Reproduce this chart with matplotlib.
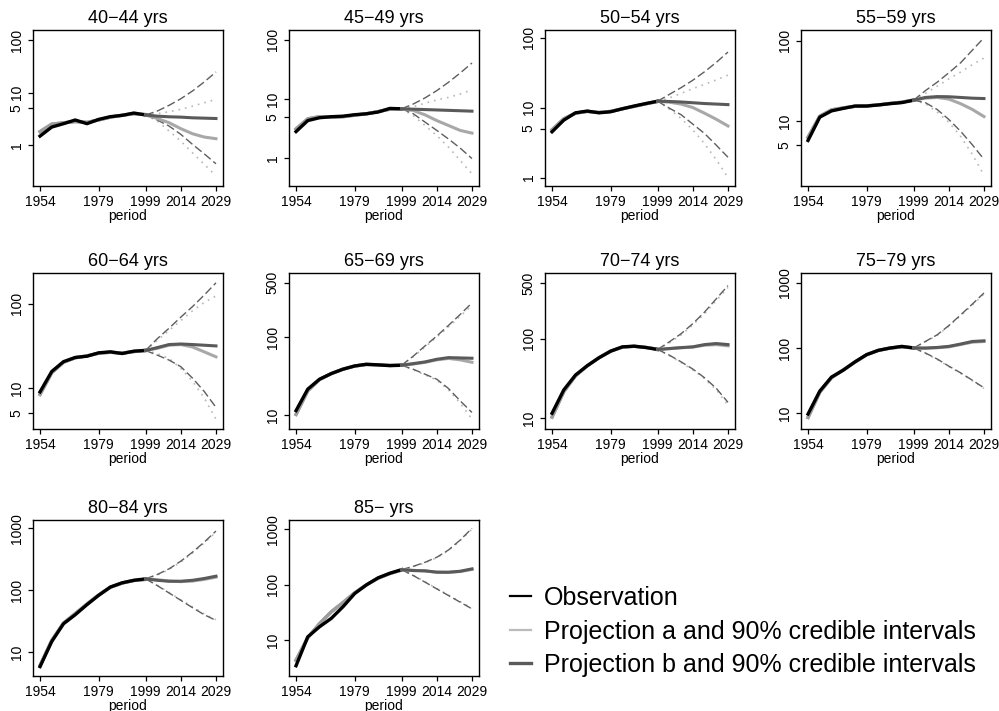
import numpy as np
import matplotlib
matplotlib.use("Agg")
import matplotlib.pyplot as plt
from matplotlib.lines import Line2D
import matplotlib.ticker as ticker

plt.rcParams['font.family'] = ['Liberation Sans', 'DejaVu Sans']

# periods
obs_years = [1954, 1959, 1964, 1969, 1974, 1979, 1984, 1989, 1994, 1999]
proj_years = [1999, 2004, 2009, 2014, 2019, 2024, 2029]
xticks = [1954, 1979, 1999, 2014, 2029]

titles = ["40\u221244 yrs", "45\u221249 yrs", "50\u221254 yrs", "55\u221259 yrs",
          "60\u221264 yrs", "65\u221269 yrs", "70\u221274 yrs", "75\u221279 yrs",
          "80\u221284 yrs", "85\u2212 yrs"]

# observed rates 1954-1999
observed = [
    [1.48, 2.2, 2.55, 3.0, 2.55, 3.08, 3.47, 3.67, 4.07, 3.73],
    [2.8, 4.3, 4.8, 5.0, 5.1, 5.4, 5.6, 6.0, 6.9, 6.8],
    [4.5, 6.6, 8.4, 8.9, 8.4, 8.7, 9.6, 10.5, 11.4, 12.3],
    [5.75, 11.2, 13.4, 14.4, 15.4, 15.4, 15.9, 16.5, 17.0, 18.2],
    [9.0, 15.7, 20.5, 23.0, 23.8, 26.1, 26.8, 25.6, 27.3, 27.8],
    [11.4, 21.5, 28.8, 34, 38.7, 42.6, 44.8, 44, 43, 43.5],
    [11.5, 22.6, 34.8, 45.5, 57.3, 69.5, 78.7, 80.2, 77.2, 72.9],
    [9.7, 21.8, 35.8, 45.7, 61.2, 79.2, 92.2, 100, 106, 100],
    [5.86, 14.9, 28.8, 40.3, 58.6, 83, 113, 132, 145, 153],
    [3.5, 11.6, 17.6, 24.9, 40.3, 69.8, 100, 134, 162, 188],
]

# fitted values over the observation period
fitted = [
    [1.8, 2.5, 2.65, 2.8, 2.7, 3.0, 3.4, 3.7, 3.95, 3.8],
    [3.1, 4.6, 5.0, 4.9, 5.0, 5.3, 5.6, 6.1, 6.7, 6.8],
    [4.8, 6.9, 8.3, 8.8, 8.5, 8.8, 9.6, 10.4, 11.3, 12.2],
    [6.3, 11.5, 13.8, 14.6, 15.3, 15.5, 15.9, 16.6, 17.2, 18.3],
    [8.4, 15.2, 20.2, 22.8, 24.0, 25.8, 26.5, 25.9, 27.0, 28.0],
    [10.2, 20.5, 28.5, 34, 38.8, 42.5, 44.5, 44, 43.3, 43.7],
    [10.3, 21.5, 34, 45.5, 57.5, 69.5, 78, 80, 77.5, 73.5],
    [8.6, 21, 35, 46, 61, 79, 92, 100, 104, 101],
    [6.1, 15.5, 29.5, 42, 60, 84, 112, 131, 144, 150],
    [4.4, 11.2, 20, 32.7, 48, 72, 100, 132, 160, 185],
]

# projection a, median and 90% interval
proj_a = [
    [3.73, 3.2, 2.66, 2.05, 1.64, 1.42, 1.32],
    [6.8, 6.36, 5.37, 4.3, 3.55, 2.93, 2.64],
    [12.3, 11.9, 11.2, 10.0, 8.3, 6.8, 5.45],
    [18.2, 19.3, 19.7, 18.8, 16.5, 14.0, 11.4],
    [27.8, 29.5, 32.1, 32.7, 30.6, 26.8, 23.4],
    [43.5, 45, 47.4, 51, 53.2, 51, 47.5],
    [72.9, 74.5, 76.5, 78, 82.5, 84, 81],
    [100, 99, 101, 104, 113, 123, 126],
    [153, 148, 141, 138, 141, 150, 163],
    [188, 183, 178, 170, 168, 174, 190],
]
a_low = [
    [3.73, 2.87, 1.85, 1.19, 0.71, 0.43, 0.26],
    [6.8, 5.2, 3.55, 2.4, 1.53, 0.91, 0.54],
    [12.3, 9.5, 7.0, 4.8, 3.05, 1.8, 1.0],
    [18.2, 16.5, 13.0, 9.7, 6.5, 3.87, 2.13],
    [27.8, 25.6, 22.4, 17.1, 12.0, 7.65, 4.27],
    [43.5, 37.9, 32.7, 28, 21, 14.2, 8.9],
    [72.9, 61, 50, 40.5, 31.3, 22.8, 14.6],
    [100, 83, 67, 52, 41, 31.5, 24],
    [153, 121, 92, 70.5, 54, 41.5, 33.5],
    [188, 149, 114, 86, 65.5, 50, 38],
]
a_high = [
    [3.73, 3.95, 4.3, 4.78, 5.5, 6.4, 7.4],
    [6.8, 7.4, 8.45, 9.6, 10.6, 12.1, 14.2],
    [12.3, 13.7, 15.9, 18.6, 21.4, 24.8, 29],
    [18.2, 22.1, 27.1, 33.5, 40.7, 50.3, 61],
    [27.8, 36.7, 48, 62.8, 82, 103, 123],
    [43.5, 56, 74.5, 100, 135, 185, 254],
    [72.9, 88, 111, 148, 205, 300, 440],
    [100, 124, 156, 216, 312, 455, 675],
    [153, 176, 216, 286, 400, 580, 870],
    [188, 213, 250, 308, 415, 625, 1010],
]

# projection b, median and 90% interval
proj_b = [
    [3.73, 3.55, 3.45, 3.4, 3.3, 3.25, 3.2],
    [6.8, 6.7, 6.6, 6.5, 6.4, 6.3, 6.2],
    [12.3, 12.2, 12.0, 11.7, 11.4, 11.2, 11.0],
    [18.2, 19.7, 20.2, 20.1, 19.7, 19.3, 19.1],
    [27.8, 30.1, 32.7, 33.2, 32.7, 32.1, 31.5],
    [43.5, 45.7, 48, 51.9, 54.5, 54, 53.5],
    [72.9, 75, 77, 78.7, 84, 86.6, 84],
    [100, 100, 102, 106, 115, 126, 129],
    [153, 145, 140, 140, 145, 155, 169],
    [188, 181, 179, 169, 169, 176, 194],
]
b_low = [
    [3.73, 2.99, 2.3, 1.6, 1.03, 0.68, 0.44],
    [6.8, 5.6, 4.05, 2.93, 2.1, 1.47, 0.98],
    [12.3, 9.8, 7.9, 5.8, 4.26, 2.9, 1.95],
    [18.2, 17.0, 14.0, 10.5, 7.5, 5.1, 3.35],
    [27.8, 24.5, 21.4, 17.9, 13.1, 9.1, 5.9],
    [43.5, 38.6, 33.4, 28.8, 21.9, 15.2, 10.8],
    [72.9, 61.9, 51, 41.4, 32.2, 23.7, 15.8],
    [100, 84, 68, 52.7, 41.7, 32.1, 24.5],
    [153, 119, 90.5, 68.9, 52.4, 40.3, 32.6],
    [188, 147, 112, 84.7, 64.3, 48.8, 37],
]
b_high = [
    [3.73, 4.44, 5.7, 7.6, 10.7, 15.9, 24.6],
    [6.8, 8.2, 10.4, 13.8, 19.1, 27.4, 40.4],
    [12.3, 15.4, 19.2, 24.5, 32.4, 44, 62],
    [18.2, 23.9, 30.4, 39.9, 53, 76, 109],
    [27.8, 38.4, 51, 69, 92, 126, 176],
    [43.5, 57, 77, 103, 141, 195, 274],
    [72.9, 91, 115, 154, 215, 316, 464],
    [100, 126, 159, 221, 321, 471, 701],
    [153, 180, 222, 295, 413, 600, 905],
    [188, 216, 255, 314, 425, 643, 1042],
]

yticks = [[1, 5, 10, 100], [1, 5, 10, 100], [1, 5, 10, 100], [5, 10, 100],
          [5, 10, 100], [10, 100, 500], [10, 100, 500], [10, 100, 1000],
          [10, 100, 1000], [10, 100, 1000]]
ylims = [(0.166, 155), (0.337, 146), (0.757, 128), (1.56, 136), (3.27, 230),
         (6.63, 662), (7.29, 668), (5.71, 1419), (4.13, 1365), (2.29, 1472)]

W, H = 999, 711
fig = plt.figure(figsize=(W / 100, H / 100), dpi=100)

col_left = [33, 289, 545, 801]
row_top = [30, 273, 520]
pw, ph = 190, 156

c_a = '#a8a8a8'
c_b = '#5a5a5a'

for i in range(10):
    r, c = divmod(i, 4)
    ax = fig.add_axes([col_left[c] / W, 1 - (row_top[r] + ph) / H, pw / W, ph / H])
    ax.set_yscale('log')

    ax.plot(obs_years, fitted[i], color=c_b, lw=2.4, alpha=0.8)
    ax.plot(obs_years, fitted[i], color=c_a, lw=2.4, alpha=0.8)
    ax.plot(obs_years, observed[i], color='black', lw=2.4)

    ax.plot(proj_years, a_low[i], color='#b8b8b8', lw=1.2, ls=(0, (1, 3)))
    ax.plot(proj_years, a_high[i], color='#b8b8b8', lw=1.2, ls=(0, (1, 3)))
    ax.plot(proj_years, b_low[i], color='#5e5e5e', lw=1.0, ls=(0, (6, 2.5)))
    ax.plot(proj_years, b_high[i], color='#5e5e5e', lw=1.0, ls=(0, (6, 2.5)))
    ax.plot(proj_years, proj_a[i], color=c_a, lw=2.2)
    ax.plot(proj_years, proj_b[i], color=c_b, lw=2.2)

    ax.set_xlim(1951, 2032)
    ax.set_ylim(*ylims[i])
    ax.yaxis.set_major_locator(ticker.FixedLocator(yticks[i]))
    ax.yaxis.set_major_formatter(ticker.FixedFormatter([str(v) for v in yticks[i]]))
    ax.yaxis.set_minor_locator(ticker.NullLocator())
    ax.set_xticks(xticks)
    ax.set_xticklabels([str(v) for v in xticks])
    for lab in ax.get_yticklabels():
        lab.set_rotation(90)
        lab.set_va('center')
    ax.tick_params(axis='both', direction='out', length=3.3, width=0.9,
                   labelsize=10, pad=3.5)
    for s in ax.spines.values():
        s.set_linewidth(1.0)
    ax.set_title(titles[i], fontsize=13, pad=5)
    ax.set_xlabel('period', fontsize=10, labelpad=-0.5)

handles = [Line2D([], [], color='black', lw=1.6),
           Line2D([], [], color='#bbbbbb', lw=1.6),
           Line2D([], [], color=c_b, lw=2.4)]
labels = ['Observation', 'Projection a and 90% credible intervals',
          'Projection b and 90% credible intervals']
fig.legend(handles, labels, loc='upper left', bbox_to_anchor=(510 / W, 1 - 586 / H),
           frameon=False, fontsize=18, handlelength=0.85, handletextpad=0.5,
           labelspacing=0.38, borderpad=0, borderaxespad=0)

fig.savefig('out.png', dpi=100)
